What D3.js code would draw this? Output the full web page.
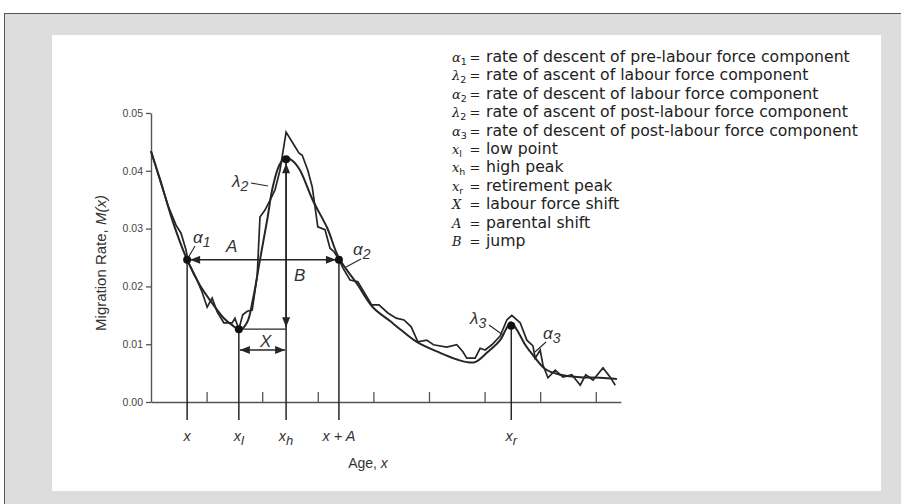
<!DOCTYPE html>
<html>
<head>
<meta charset="utf-8">
<script src="https://cdn.jsdelivr.net/npm/d3@7"></script>
<style>
  body { margin: 0; background: #fff; }
  svg { display: block; }
</style>
</head>
<body>
<div class="vis-schedule"></div>
<script>
// observed (jagged) schedule
const obsAge  = [0, 1.6, 3.1, 4.5, 5.4, 6.3, 6.7, 8.1, 9.2, 10.1, 11.0, 11.9, 13.1, 14.6, 15.1, 15.8, 16.5, 17.3, 18.2, 19.1, 19.6, 20.5, 21.4, 22.3, 23.2, 24.3, 25.5, 26.6, 27.2, 28.2, 29.0, 30.0, 31.3, 32.2, 32.9, 33.8, 34.5, 35.8, 37.2, 37.9, 39.7, 41.0, 42.6, 44.1, 45.5, 46.8, 48.0, 49.6, 50.8, 53.2, 55.0, 56.1, 56.8, 58.3, 59.2, 60.1, 61.3, 62.8, 64.0, 64.9, 66.4, 67.6, 68.7, 69.1, 70.0, 70.5, 71.4, 72.7, 74.1, 75.7, 77.2, 78.2, 79.5, 81.3, 82.6, 83.5];
const obsRate = [0.0434, 0.0384, 0.0339, 0.0306, 0.0292, 0.0263, 0.0242, 0.0215, 0.0190, 0.0164, 0.0180, 0.0156, 0.0137, 0.0137, 0.0145, 0.0126, 0.0151, 0.0157, 0.0159, 0.0218, 0.0320, 0.0332, 0.0349, 0.0367, 0.0401, 0.0467, 0.0448, 0.0431, 0.0427, 0.0401, 0.0372, 0.0303, 0.0298, 0.0266, 0.0260, 0.0247, 0.0232, 0.0211, 0.0208, 0.0197, 0.0168, 0.0168, 0.0154, 0.0145, 0.0142, 0.0130, 0.0104, 0.0107, 0.0099, 0.0095, 0.0099, 0.0087, 0.0076, 0.0076, 0.0093, 0.0090, 0.0099, 0.0114, 0.0142, 0.0150, 0.0137, 0.0107, 0.0097, 0.0076, 0.0090, 0.0064, 0.0042, 0.0055, 0.0043, 0.0047, 0.0029, 0.0047, 0.0038, 0.0059, 0.0043, 0.0029];

// model (smooth) schedule
const fitAge  = [0, 1.6, 4.0, 6.5, 8.8, 11.0, 13.1, 14.6, 16.0, 17.3, 18.3, 19.6, 20.9, 21.9, 23.2, 24.3, 25.5, 26.8, 29.1, 31.7, 33.8, 37.1, 39.9, 43.0, 44.8, 47.8, 52.0, 55.2, 56.8, 58.3, 60.4, 62.8, 63.8, 64.7, 65.8, 67.3, 68.7, 70.9, 73.6, 77.2, 80.8, 83.8];
const fitRate = [0.0434, 0.0386, 0.0310, 0.0246, 0.0202, 0.0171, 0.0145, 0.0133, 0.0125, 0.0138, 0.0176, 0.0246, 0.0315, 0.0372, 0.0412, 0.0422, 0.0417, 0.0401, 0.0349, 0.0301, 0.0249, 0.0204, 0.0164, 0.0140, 0.0126, 0.0104, 0.0085, 0.0073, 0.0069, 0.0069, 0.0085, 0.0107, 0.0125, 0.0138, 0.0125, 0.0099, 0.0081, 0.0057, 0.0047, 0.0043, 0.0042, 0.0040];

const yTicks = [0, 0.01, 0.02, 0.03, 0.04, 0.05];
const minorAges = [10, 20, 30, 40, 50, 60, 70, 80];

// x, x_l, x_h, x + A, x_r
const markAges  = [6.5, 15.8, 24.3, 33.8, 64.8];
const markRates = [0.0246, 0.0126, 0.0420, 0.0246, 0.0132];
const markNames = [['x', ''], ['x', 'l'], ['x', 'h'], ['x + A', ''], ['x', 'r']];

const legendSym = [['α', '1'], ['λ', '2'], ['α', '2'], ['λ', '2'], ['α', '3'], ['x', 'l'], ['x', 'h'], ['x', 'r'], ['X', ''], ['A', ''], ['B', '']];
const legendText = [
  'rate of descent of pre-labour force component',
  'rate of ascent of labour force component',
  'rate of descent of labour force component',
  'rate of ascent of post-labour force component',
  'rate of descent of post-labour force component',
  'low point',
  'high peak',
  'retirement peak',
  'labour force shift',
  'parental shift',
  'jump'
];

const W = 901, H = 504;
const ink = '#262626';
const sans = "'Liberation Sans', Arial, sans-serif";

const svg = d3.select('.vis-schedule').append('svg')
    .attr('width', W)
    .attr('height', H);

// frame
svg.append('rect').attr('x', 4.5).attr('y', 13.5).attr('width', W).attr('height', H)
    .attr('fill', '#dddddd').attr('stroke', '#555').attr('stroke-width', 1);
svg.append('rect').attr('x', 52).attr('y', 35).attr('width', 829).attr('height', 456)
    .attr('fill', '#ffffff');

const defs = svg.append('defs');
defs.append('marker')
    .attr('id', 'arr')
    .attr('viewBox', '0 0 10 8')
    .attr('refX', 10).attr('refY', 4)
    .attr('markerWidth', 11).attr('markerHeight', 8)
    .attr('markerUnits', 'userSpaceOnUse')
    .attr('orient', 'auto-start-reverse')
    .append('path').attr('d', 'M0,0 L10,4 L0,8 Z').attr('fill', ink);

const x = d3.scaleLinear().domain([0, 84.5]).range([151, 620.8]);
const y = d3.scaleLinear().domain([0, 0.05]).range([402, 113]);

// y axis
const yAxis = svg.append('g')
    .attr('transform', 'translate(' + x(0) + ',0)')
    .call(d3.axisLeft(y).tickValues(yTicks).tickFormat(d3.format('.2f')).tickSize(5).tickSizeOuter(0));
yAxis.select('.domain').attr('stroke', '#555').attr('stroke-width', 1.4);
yAxis.selectAll('.tick line').attr('stroke', '#555').attr('stroke-width', 1.3);
yAxis.selectAll('.tick text').attr('fill', '#444').attr('font-family', sans).attr('font-size', 10.5).attr('x', -8);

// x axis with small upward ticks
const xAxis = svg.append('g')
    .attr('transform', 'translate(0,' + y(0) + ')')
    .call(d3.axisBottom(x).tickValues(minorAges).tickFormat('').tickSize(-10).tickSizeOuter(0));
xAxis.select('.domain').attr('stroke', '#555').attr('stroke-width', 1.4);
xAxis.selectAll('.tick line').attr('stroke', '#555').attr('stroke-width', 1.3);

// axis titles
const yTitle = svg.append('text')
    .attr('transform', 'translate(106,' + 263 + ') rotate(-90)')
    .attr('text-anchor', 'middle')
    .attr('font-family', sans).attr('font-size', 15).attr('fill', '#333');
yTitle.append('tspan').text('Migration Rate, ');
yTitle.append('tspan').attr('font-style', 'italic').text('M(x)');

const xTitle = svg.append('text')
    .attr('x', 368).attr('y', 468)
    .attr('text-anchor', 'middle')
    .attr('font-family', sans).attr('font-size', 14).attr('fill', '#333');
xTitle.append('tspan').text('Age, ');
xTitle.append('tspan').attr('font-style', 'italic').text('x');

// drop lines from marked points
svg.selectAll('.drop')
    .data(markAges)
    .enter().append('line')
    .attr('class', 'drop')
    .attr('x1', d => x(d)).attr('x2', d => x(d))
    .attr('y1', (d, i) => y(markRates[i]))
    .attr('y2', y(0) + 18)
    .attr('stroke', ink).attr('stroke-width', 1.5);

const mk = svg.selectAll('.mk')
    .data(markNames)
    .enter().append('text')
    .attr('class', 'mk')
    .attr('x', (d, i) => x(markAges[i]))
    .attr('y', 441)
    .attr('text-anchor', 'middle')
    .attr('font-family', sans).attr('font-size', 14.5).attr('font-style', 'italic').attr('fill', '#333');
mk.append('tspan').text(d => d[0]);
mk.append('tspan').attr('dy', 4).attr('font-size', 13).text(d => d[1]);

// schedules
const line = d3.line().x(d => x(d[0])).y(d => y(d[1]));
svg.append('path')
    .datum(d3.zip(fitAge, fitRate))
    .attr('d', line.curve(d3.curveCatmullRom.alpha(0.5)))
    .attr('fill', 'none').attr('stroke', ink).attr('stroke-width', 2);
svg.append('path')
    .datum(d3.zip(obsAge, obsRate))
    .attr('d', d3.line().x(d => x(d[0])).y(d => y(d[1])))
    .attr('fill', 'none').attr('stroke', ink).attr('stroke-width', 1.7).attr('stroke-linejoin', 'miter');

// A: parental shift
const yA = y(markRates[0]);
svg.append('line')
    .attr('x1', x(markAges[0]) + 3).attr('x2', x(markAges[3]) - 3)
    .attr('y1', yA).attr('y2', yA)
    .attr('stroke', ink).attr('stroke-width', 1.5)
    .attr('marker-start', 'url(#arr)').attr('marker-end', 'url(#arr)');

// B: jump
svg.append('line')
    .attr('x1', x(markAges[2])).attr('x2', x(markAges[2]))
    .attr('y1', y(markRates[2]) + 4).attr('y2', y(markRates[1]) - 2)
    .attr('stroke', ink).attr('stroke-width', 1.5)
    .attr('marker-start', 'url(#arr)').attr('marker-end', 'url(#arr)');

// low point level to high peak
svg.append('line')
    .attr('x1', x(markAges[1])).attr('x2', x(markAges[2]))
    .attr('y1', y(markRates[1])).attr('y2', y(markRates[1]))
    .attr('stroke', ink).attr('stroke-width', 1.4);

// X: labour force shift
svg.append('line')
    .attr('x1', x(markAges[1]) + 1).attr('x2', x(markAges[2]) - 1)
    .attr('y1', 350).attr('y2', 350)
    .attr('stroke', ink).attr('stroke-width', 1.4)
    .attr('marker-start', 'url(#arr)').attr('marker-end', 'url(#arr)');

// points
svg.selectAll('.pt')
    .data(markAges)
    .enter().append('circle')
    .attr('class', 'pt')
    .attr('cx', d => x(d))
    .attr('cy', (d, i) => y(markRates[i]))
    .attr('r', 4)
    .attr('fill', '#111');

// in-plot parameter labels with leaders
const notes = [
  {s: 'α', sub: '1', tx: 193, ty: 243, l: [195, 246, 188, 258]},
  {s: 'λ', sub: '2', tx: 232, ty: 187, l: [251, 183, 268, 186]},
  {s: 'α', sub: '2', tx: 353, ty: 255, l: [361, 259, 346, 267]},
  {s: 'λ', sub: '3', tx: 470, ty: 324, l: [489, 325, 503, 335]},
  {s: 'α', sub: '3', tx: 543, ty: 339, l: [546, 342, 535, 352]},
  {s: 'A', sub: '', tx: 226, ty: 252, l: null},
  {s: 'B', sub: '', tx: 294, ty: 281, l: null},
  {s: 'X', sub: '', tx: 260, ty: 347, l: null}
];
notes.forEach(n => {
  const t = svg.append('text')
      .attr('x', n.tx).attr('y', n.ty)
      .attr('font-family', sans).attr('font-size', 17).attr('font-style', 'italic').attr('fill', '#333');
  t.append('tspan').text(n.s);
  if (n.sub) t.append('tspan').attr('dy', 4).attr('font-size', 14).text(n.sub);
  if (n.l) svg.append('line')
      .attr('x1', n.l[0]).attr('y1', n.l[1]).attr('x2', n.l[2]).attr('y2', n.l[3])
      .attr('stroke', ink).attr('stroke-width', 1.1);
});

// legend
const lg = svg.append('g').attr('font-size', 15.7).attr('fill', '#222');
legendSym.forEach((s, i) => {
  const yy = 62 + i * 18.4;
  const t = lg.append('text').attr('x', 452).attr('y', yy)
      .attr('font-family', "'DejaVu Serif', serif").attr('font-style', 'italic').attr('font-size', 13);
  t.append('tspan').text(s[0]);
  if (s[1]) t.append('tspan').attr('dy', 3).attr('font-size', 9.5).attr('font-style', 'normal').attr('font-family', "'DejaVu Sans', sans-serif").text(s[1]);
  lg.append('text').attr('x', 475).attr('y', yy).attr('text-anchor', 'middle')
      .attr('font-family', "'DejaVu Sans', sans-serif").attr('font-size', 13).text('=');
  lg.append('text').attr('x', 486).attr('y', yy)
      .attr('font-family', "'DejaVu Sans', sans-serif").text(legendText[i]);
});
</script>
</body>
</html>
